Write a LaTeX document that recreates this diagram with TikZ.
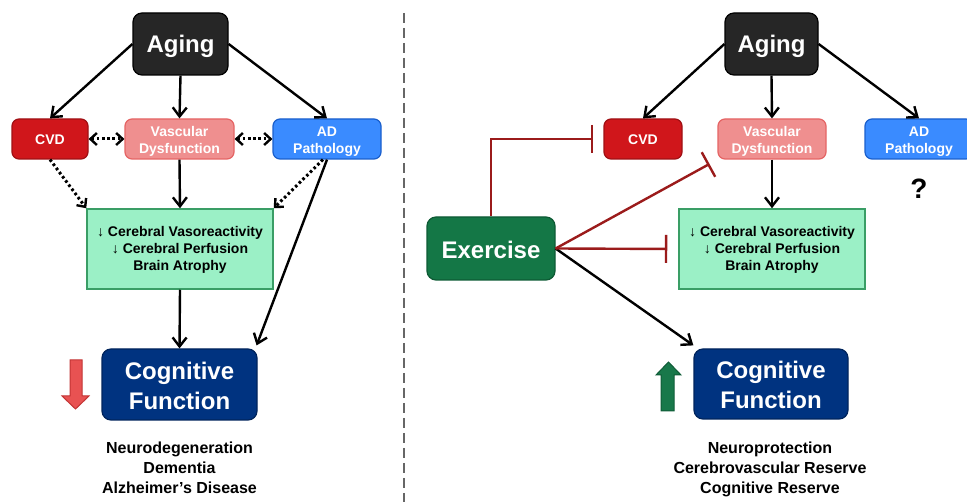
\documentclass[tikz,border=0pt]{standalone}
\usepackage{fontspec}
\setmainfont{Liberation Sans}
\usetikzlibrary{arrows.meta}
\definecolor{agingfill}{HTML}{262626}
\definecolor{cvdfill}{HTML}{D0161B}
\definecolor{cvdline}{HTML}{A01014}
\definecolor{vdfill}{HTML}{EF8F8F}
\definecolor{vdline}{HTML}{E56464}
\definecolor{adfill}{HTML}{3A8BFF}
\definecolor{adline}{HTML}{1A5FCC}
\definecolor{brainfill}{HTML}{9BF0C6}
\definecolor{brainline}{HTML}{3A9E66}
\definecolor{cogfill}{HTML}{003380}
\definecolor{cogline}{HTML}{00245C}
\definecolor{exfill}{HTML}{147746}
\definecolor{exline}{HTML}{0D5A34}
\definecolor{inhcol}{HTML}{9B1B1B}
\definecolor{downfill}{HTML}{E85252}
\definecolor{downline}{HTML}{C23434}
\definecolor{upfill}{HTML}{18784A}
\definecolor{upline}{HTML}{0F5C37}
\begin{document}
\begin{tikzpicture}[x=1pt,y=-1pt,
  box/.style={draw, rounded corners=7pt, line width=1.2pt, inner sep=0pt, align=center,
    text=white, font=\bfseries\fontsize{14}{17}\selectfont},
  onebox/.style={box, text height=11pt, text depth=0pt},
  twobox/.style={box, text height=29pt, text depth=0pt},
  bigbox/.style={box, rounded corners=9pt, font=\bfseries\fontsize{24}{30}\selectfont},
  bigone/.style={bigbox, text height=17.5pt, text depth=0pt},
  bigtwo/.style={bigbox, text height=49.6pt, text depth=0pt},
  brainbox/.style={draw=brainline, fill=brainfill, line width=1.5pt, inner sep=0pt, align=center,
    minimum width=186pt, minimum height=80pt, text=black, text height=44pt, text depth=0pt,
    font=\bfseries\fontsize{14}{17}\selectfont},
  outtext/.style={align=center, inner sep=0pt, text=black, text height=51.4pt, text depth=0pt,
    font=\bfseries\fontsize{16}{19.7}\selectfont},
  arr/.style={line width=2.4pt, -{Straight Barb[length=9pt,width=14pt,line width=2.4pt]}},
  dotarr/.style={line width=3pt, dash pattern=on 2.6pt off 2.6pt, -{Straight Barb[length=6.5pt,width=12pt,line width=2.4pt]}},
  dotdbl/.style={line width=3pt, dash pattern=on 2.6pt off 2.6pt, {Straight Barb[length=6.5pt,width=12pt,line width=2.4pt]}-{Straight Barb[length=6.5pt,width=12pt,line width=2.4pt]}},
  inh/.style={draw=inhcol, line width=2.4pt, -{Bar[width=28pt,line width=2.4pt]}}
]
\useasboundingbox (0,0) rectangle (967,502);

% divider
\draw[draw=black!60, line width=1.6pt, dash pattern=on 10pt off 5pt] (404,13) -- (404,502);

% ---------- left panel ----------
\node[bigone, draw=black, fill=agingfill, minimum width=95pt, minimum height=62pt] (agingL) at (180.5,44) {Aging};
\node[onebox, draw=cvdline, fill=cvdfill, minimum width=76pt, minimum height=40pt] (cvdL) at (50,139) {CVD};
\node[twobox, draw=vdline, fill=vdfill, minimum width=109pt, minimum height=40pt] (vdL) at (179.5,139) {Vascular\\Dysfunction};
\node[twobox, draw=adline, fill=adfill, minimum width=108pt, minimum height=40pt] (adL) at (327,139) {AD\\Pathology};
\node[brainbox] (brainL) at (180,249) {↓ Cerebral Vasoreactivity\\↓ Cerebral Perfusion\\Brain Atrophy};
\node[bigtwo, draw=cogline, fill=cogfill, minimum width=155pt, minimum height=71pt] (cogL) at (179.5,384.5) {Cognitive\\Function};
\node[outtext] (outL) at (179.5,467.7) {Neurodegeneration\\Dementia\\Alzheimer’s Disease};

\draw[arr] (agingL.west) -- (cvdL.north);
\draw[arr] (agingL.south) -- (vdL.north);
\draw[arr] (agingL.east) -- (adL.north);
\draw[dotdbl] (cvdL.east) -- (vdL.west);
\draw[dotdbl] (vdL.east) -- (adL.west);
\draw[dotarr] (cvdL.south) -- (brainL.north west);
\draw[arr] (vdL.south) -- (brainL.north);
\draw[dotarr] ([xshift=-4pt]adL.south) -- (brainL.north east);
\draw[arr] (adL.south) -- ([xshift=-1pt,yshift=3pt]cogL.north east);
\draw[arr] (brainL.south) -- (cogL.north);

% red down arrow
\draw[draw=downline, fill=downfill, line width=1pt]
  (70,360) -- (82,360) -- (82,396) -- (89,396) -- (75.5,409) -- (62,396) -- (70,396) -- cycle;

% ---------- right panel ----------
\node[bigone, draw=black, fill=agingfill, minimum width=93pt, minimum height=62pt] (agingR) at (771.5,44) {Aging};
\node[onebox, draw=cvdline, fill=cvdfill, minimum width=78pt, minimum height=40pt] (cvdR) at (643,139) {CVD};
\node[twobox, draw=vdline, fill=vdfill, minimum width=108pt, minimum height=40pt] (vdR) at (772,139) {Vascular\\Dysfunction};
\node[twobox, draw=adline, fill=adfill, minimum width=108pt, minimum height=40pt] (adR) at (919,139) {AD\\Pathology};
\node[inner sep=0pt, font=\bfseries\fontsize{28}{30}\selectfont] (qR) at (919,189) {?};
\node[brainbox] (brainR) at (772,249) {↓ Cerebral Vasoreactivity\\↓ Cerebral Perfusion\\Brain Atrophy};
\node[bigone, text height=19.5pt, draw=exline, fill=exfill, minimum width=128pt, minimum height=63pt] (exR) at (491,248.5) {Exercise};
\node[bigtwo, draw=cogline, fill=cogfill, minimum width=154pt, minimum height=70pt] (cogR) at (771,384) {Cognitive\\Function};
\node[outtext] (outR) at (770,467.7) {Neuroprotection\\Cerebrovascular Reserve\\Cognitive Reserve};

\draw[arr] (agingR.west) -- (cvdR.north);
\draw[arr] (agingR.south) -- (vdR.north);
\draw[arr] (agingR.east) -- (adR.north);
\draw[arr] (vdR.south) -- (brainR.north);
\draw[arr] (exR.east) -- ([yshift=3pt]cogR.north west);

\draw[inh, shorten >=10pt] (exR.north) |- (cvdR.west);
\draw[inh, shorten >=9pt] (exR.east) -- (vdR.south west);
\draw[inh, shorten >=11pt] (exR.east) -- (brainR.west);

% green up arrow
\draw[draw=upline, fill=upfill, line width=1pt]
  (661,411) -- (674,411) -- (674,375) -- (681,375) -- (668.5,362) -- (656,375) -- (661,375) -- cycle;
\end{tikzpicture}
\end{document}
